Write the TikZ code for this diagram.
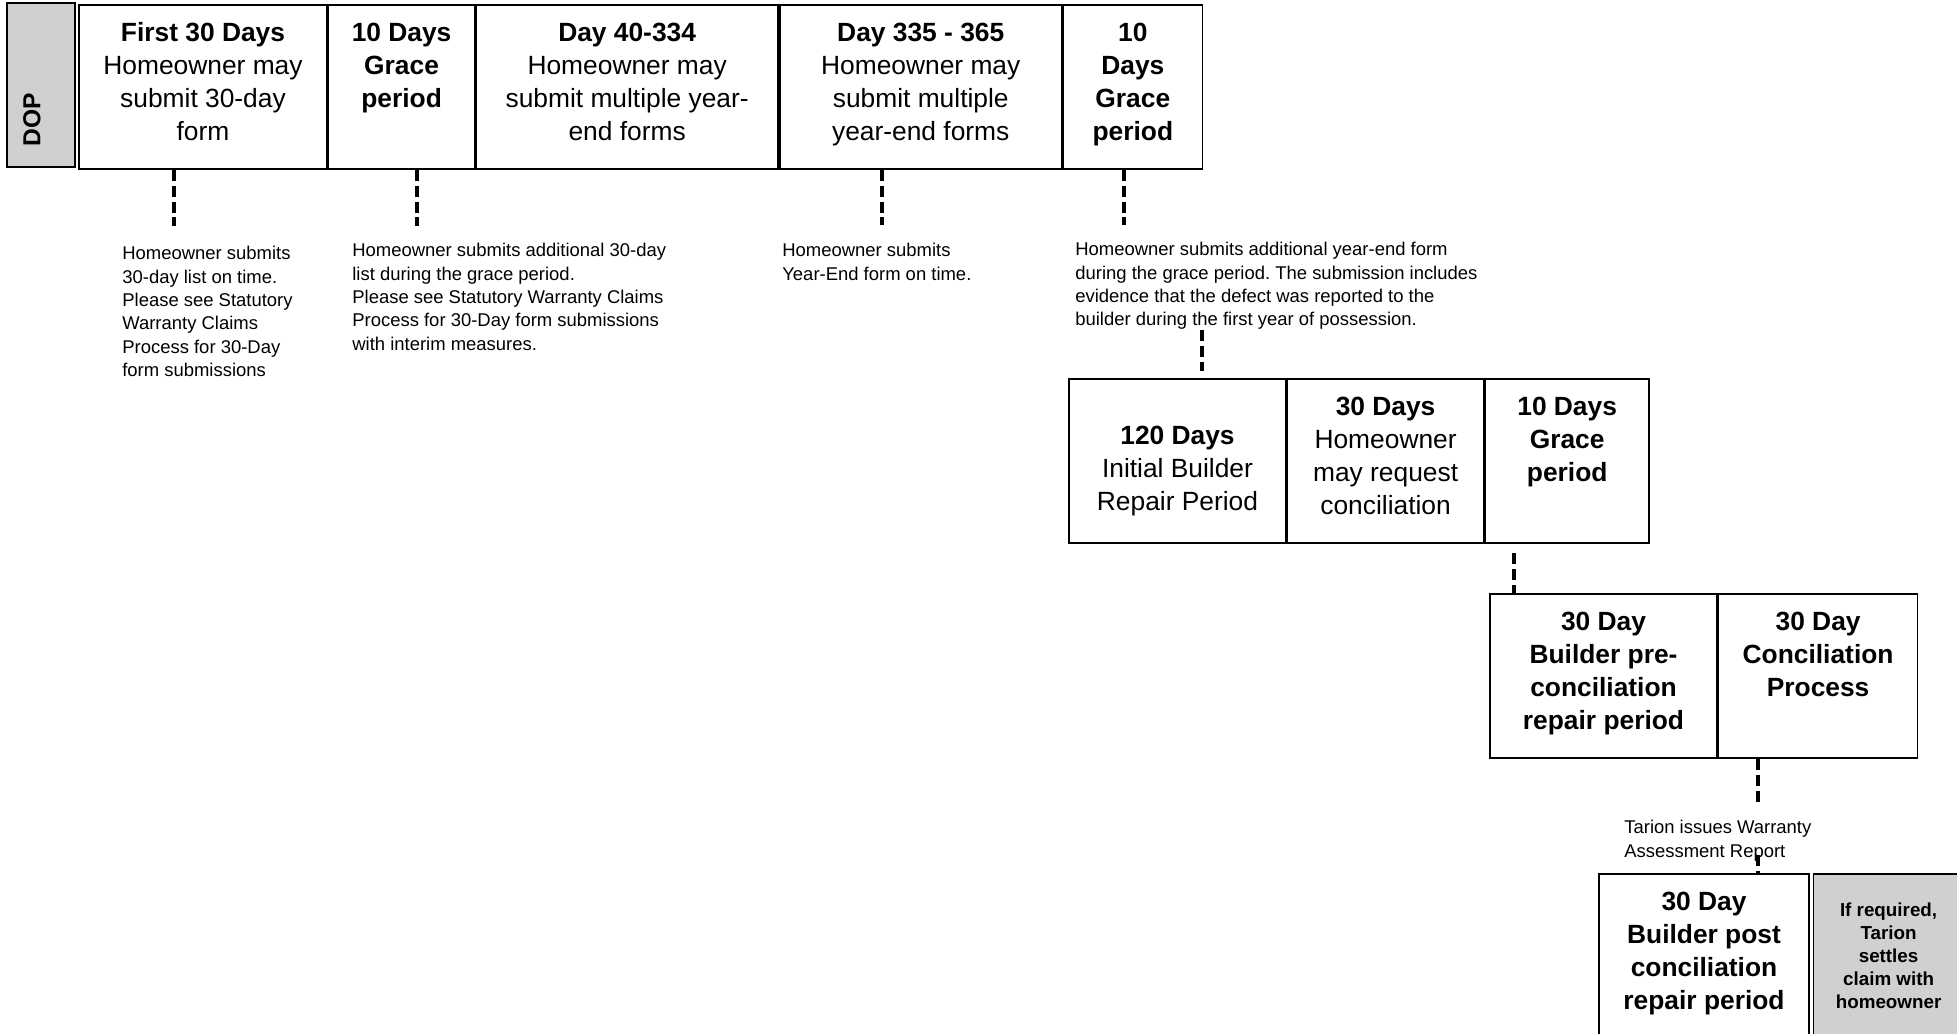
\documentclass[tikz,border=0pt]{standalone}
\usepackage{fontspec}
\setmainfont{Liberation Sans}
\usepackage{xcolor}
\usetikzlibrary{positioning}
\definecolor{dopgray}{HTML}{D0D0D0}
\frenchspacing

\begin{document}
\begin{tikzpicture}[
    every node/.style={font=\fontsize{15}{18.8}\selectfont},
    daybox/.style={draw,line width=0.9pt,minimum height=3.28cm,align=center,inner sep=2pt,
      execute at end node={\rule[-0.22cm]{0pt}{0.22cm}}},
    boldbox/.style={daybox,font=\bfseries\fontsize{15}{18.8}\selectfont},
    graybox/.style={draw,line width=0.9pt,fill=dopgray,minimum width=3.0cm,minimum height=3.28cm,align=center,font=\bfseries\fontsize{10.7}{13.1}\selectfont},
    notetext/.style={font=\fontsize{10.5}{13.3}\selectfont,align=left,anchor=north west,inner sep=0pt},
    dashline/.style={line width=2.3pt,dash pattern=on 6.5pt off 2.55pt},
    node distance=0pt
  ]
  \useasboundingbox (0,0) rectangle (39.14,-20.68);

  \node[draw,line width=0.9pt,fill=dopgray,minimum width=1.36cm,minimum height=3.28cm] (dop) at (0.82,-1.70) {};
  \node[rotate=90,inner sep=0pt,font=\bfseries\fontsize{14}{17}\selectfont] (doptext) at (0.64,-2.39) {DOP};

  \node[daybox,minimum width=4.96cm] (first) at (4.06,-1.74)
    {\textbf{First 30 Days}\\Homeowner may\\submit 30-day\\form};
  \node[daybox,minimum width=2.92cm,right=of first] (grace1)
    {\textbf{10 Days}\\\textbf{Grace}\\\textbf{period}\\~};
  \node[daybox,minimum width=6.04cm,right=of grace1] (mid)
    {\textbf{Day 40-334}\\Homeowner may\\submit multiple year-\\end forms};
  \node[daybox,minimum width=5.64cm,right=of mid] (late)
    {\textbf{Day 335 - 365}\\Homeowner may\\submit multiple\\year-end forms};
  \node[daybox,minimum width=2.78cm,right=of late] (grace2)
    {\textbf{10}\\\textbf{Days}\\\textbf{Grace}\\\textbf{period}};

  \node[notetext] (note1) at (2.44,-4.92)
    {Homeowner submits\\30-day list on time.\\Please see Statutory\\Warranty Claims\\Process for 30-Day\\form submissions};
  \node[notetext] (note2) at (7.04,-4.86)
    {Homeowner submits additional 30-day\\list during the grace period.\\Please see Statutory Warranty Claims\\Process for 30-Day form submissions\\with interim measures.};
  \node[notetext] (note3) at (15.64,-4.86)
    {Homeowner submits\\Year-End form on time.};
  \node[notetext] (note4) at (21.50,-4.84)
    {Homeowner submits additional year-end form\\during the grace period. The submission includes\\evidence that the defect was reported to the\\builder during the first year of possession.};

  \node[daybox,minimum width=4.34cm] (repair) at (23.55,-9.22)
    {\rule{0pt}{0.88cm}\textbf{120 Days}\\Initial Builder\\Repair Period};
  \node[daybox,minimum width=3.92cm,right=of repair] (request)
    {\textbf{30 Days}\\Homeowner\\may request\\conciliation};
  \node[daybox,minimum width=3.28cm,right=of request] (grace3)
    {\textbf{10 Days}\\\textbf{Grace}\\\textbf{period}\\~};

  \node[boldbox,minimum width=4.54cm] (precon) at (32.07,-13.52)
    {30 Day\\Builder pre-\\conciliation\\repair period};
  \node[boldbox,minimum width=3.98cm,right=of precon] (concil)
    {30 Day\\Conciliation\\Process\\~};

  \node[notetext] (note5) at (32.48,-16.40)
    {Tarion issues Warranty\\Assessment Report};

  \node[boldbox,minimum width=4.2cm] (postcon) at (34.08,-19.12)
    {30 Day\\Builder post\\conciliation\\repair period};
  \node[graybox,right=0.06cm of postcon] (settle)
    {If required,\\Tarion\\settles\\claim with\\homeowner};

  \coordinate (d1) at (3.48,-4.52);
  \coordinate (d2) at (8.34,-4.52);
  \coordinate (d3) at (17.64,-4.50);
  \coordinate (d4) at (22.48,-4.50);
  \coordinate (d5) at (24.04,-7.42);
  \coordinate (d6) at (30.28,-11.06);
  \coordinate (d7) at (35.16,-16.04);
  \coordinate (d8) at (35.16,-17.10);

  \draw[dashline] (first.south -| d1) -- (d1);
  \draw[dashline] (grace1.south -| d2) -- (d2);
  \draw[dashline] (late.south -| d3) -- (d3);
  \draw[dashline] (grace2.south -| d4) -- (d4);
  \draw[dashline] (note4.south -| d5) -- (d5);
  \draw[dashline] (d6) -- (precon.north -| d6);
  \draw[dashline] (concil.south -| d7) -- (d7);
  \draw[dashline] (d8) -- (postcon.north -| d8);
\end{tikzpicture}
\end{document}
